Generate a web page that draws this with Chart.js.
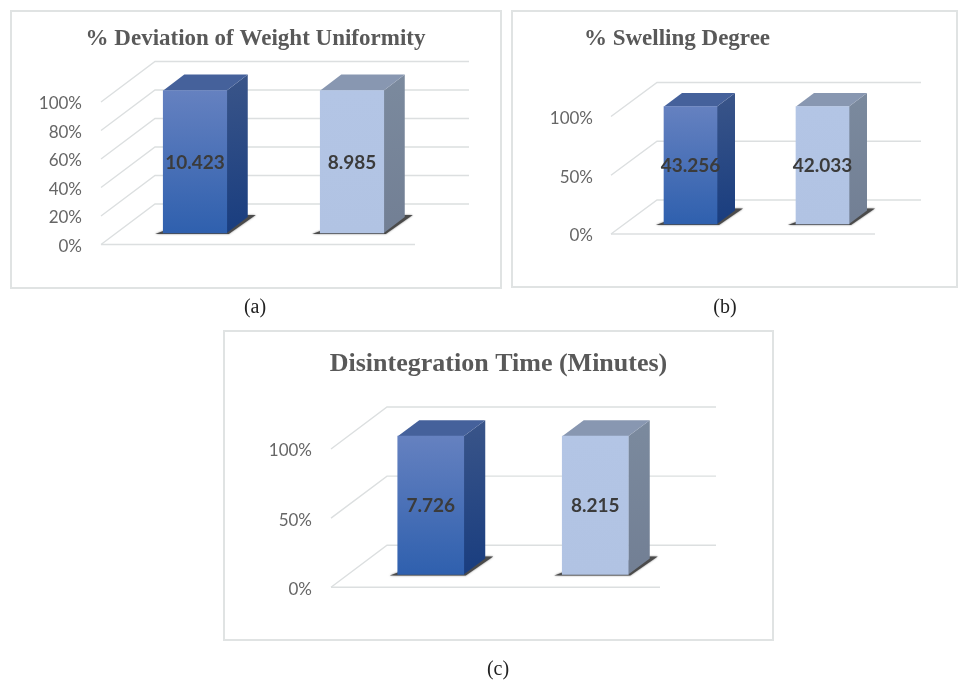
<!DOCTYPE html>
<html><head><meta charset="utf-8">
<script src="https://cdn.jsdelivr.net/npm/chart.js@4/dist/chart.umd.min.js"></script>
<style>
html,body{margin:0;background:#fff;width:958px;height:680px;overflow:hidden}
#page{position:relative;width:958px;height:680px;filter:blur(.5px)}
.panel{position:absolute;box-sizing:border-box;border:2px solid #e0e3e3;background:#fff}
canvas{position:absolute;left:0;top:0}
.wrap{position:absolute}
.cap{position:absolute;font:20px "Liberation Serif",serif;color:#222;transform:translateX(-50%);line-height:24px}
</style></head><body><div id="page"></div>
<script>
const categories = ['Series 1','Series 2'];
const weightValues = [10.423, 8.985];
const swellingValues = [43.256, 42.033];
const disintegrationValues = [7.726, 8.215];
const weightPercent = [100, 100];
const swellingPercent = [100, 100];
const disintegrationPercent = [100, 100];
const weightTicks = [0,20,40,60,80,100];
const swellingTicks = [0,50,100];
const disintegrationTicks = [0,50,100];
const weightTitle = '% Deviation of Weight Uniformity';
const swellingTitle = '% Swelling Degree';
const disintegrationTitle = 'Disintegration Time (Minutes)';

const SERIF='"Liberation Serif",serif';
const panels=[
 {title:weightTitle,vals:weightValues,pct:weightPercent,ticks:weightTicks,cap:'(a)',capX:255,capY:294,
  box:[10,10,492,279],area:[91,92,87,44.5],back:[54,-40.5],off:[15.5,-11.5],depth:[21,-16],barW:63.5,
  titleSize:23,titleY:29,titleX:245.5,tickPad:19,labelSize:19,tickShift:2},
 {title:swellingTitle,vals:swellingValues,pct:swellingPercent,ticks:swellingTicks,cap:'(b)',capX:725,capY:294,
  box:[511,10,447,278],area:[100,106.5,83,54],back:[46,-34],off:[13.5,-10],depth:[18,-13.5],barW:53,
  titleSize:23,titleY:29,titleX:166,tickPad:18,labelSize:19,tickShift:2},
 {title:disintegrationTitle,vals:disintegrationValues,pct:disintegrationPercent,ticks:disintegrationTicks,cap:'(c)',capX:498,capY:656,
  box:[223,330,551,311],area:[108,119,114,53.7],back:[56,-42],off:[17.5,-12.8],depth:[21.5,-16],barW:66,
  titleSize:26,titleY:34,titleX:275.5,tickPad:19,labelSize:19,tickShift:2}
];
const skin=[
 {front:['#6581C0','#2F60AE'],side:['#3A5589','#193D7F'],top:'#45619B'},
 {front:['#B3C5E5','#B1C3E3'],side:['#7B8A9E','#727F94'],top:'#8897B1'}
];

const solid3d={
 id:'solid3d',
 beforeDatasetsDraw(chart,_,o){
  const ctx=chart.ctx,y=chart.scales.y,a=chart.chartArea;
  ctx.save();
  ctx.strokeStyle='#dcdfe0';ctx.lineWidth=1.4;
  y.ticks.forEach(t=>{
   const p=y.getPixelForValue(t.value);
   ctx.beginPath();
   ctx.moveTo(a.left,p);ctx.lineTo(a.left+o.back[0],p+o.back[1]);ctx.lineTo(a.right+o.back[0],p+o.back[1]);
   ctx.stroke();
   if(t.value===0){ctx.beginPath();ctx.moveTo(a.left,p);ctx.lineTo(a.right,p);ctx.stroke();}
  });
  const bars=chart.getDatasetMeta(0).data;
  bars.forEach((el,i)=>{
   const s=skin[i],b=el.getProps(['x','y','base','width'],true);
   const L=b.x-b.width/2+o.off[0],R=b.x+b.width/2+o.off[0],T=b.y+o.off[1],B=b.base+o.off[1];
   const dx=o.depth[0],dy=o.depth[1];
   ctx.save();
   ctx.shadowColor='rgba(60,60,60,.7)';ctx.shadowBlur=2;
   ctx.fillStyle='#4b4b4b';
   ctx.beginPath();ctx.moveTo(L-8,B+1);ctx.lineTo(R+2,B+1);ctx.lineTo(R+dx+8,B+dy-2);ctx.lineTo(R+dx,B+dy-2);ctx.lineTo(L,B-2);ctx.closePath();ctx.fill();
   ctx.restore();
   let g=ctx.createLinearGradient(R,T+dy,R+dx,B);
   g.addColorStop(0,s.side[0]);g.addColorStop(1,s.side[1]);
   ctx.fillStyle=g;
   ctx.beginPath();ctx.moveTo(R,T);ctx.lineTo(R+dx,T+dy);ctx.lineTo(R+dx,B+dy);ctx.lineTo(R,B);ctx.closePath();ctx.fill();
   ctx.fillStyle=s.top;
   ctx.beginPath();ctx.moveTo(L,T);ctx.lineTo(L+dx,T+dy);ctx.lineTo(R+dx,T+dy);ctx.lineTo(R,T);ctx.closePath();ctx.fill();
  });
  ctx.restore();
  ctx.save();ctx.translate(o.off[0],o.off[1]);
 },
 afterDatasetsDraw(chart,_,o){
  const ctx=chart.ctx;
  ctx.restore();
  ctx.save();
  ctx.font='bold '+o.labelSize+'px Lato,sans-serif';ctx.fillStyle='#3b3b3b';
  ctx.textAlign='center';ctx.textBaseline='middle';
  chart.getDatasetMeta(0).data.forEach((el,i)=>{
   const b=el.getProps(['x','y','base'],true);
   ctx.fillText(o.vals[i].toFixed(3),b.x+o.off[0],(b.y+b.base)/2+o.off[1]+1);
  });
  ctx.restore();
 },
 afterLayout(chart,_,o){
  if(chart.titleBlock){chart.titleBlock.left=o.titleX-400;chart.titleBlock.right=o.titleX+400;}
 }
};

const page=document.getElementById('page');
panels.forEach(p=>{
 const [bx,by,bw,bh]=p.box,[aL,aT,aR,aB]=p.area;
 const pn=document.createElement('div');pn.className='panel';
 pn.style.cssText=`left:${bx}px;top:${by}px;width:${bw}px;height:${bh}px`;page.appendChild(pn);
 const w=document.createElement('div');w.className='wrap';
 w.style.cssText=`left:${bx}px;top:${by}px;width:${bw}px;height:${bh}px`;page.appendChild(w);
 const c=document.createElement('canvas');c.width=bw;c.height=bh;c.style.width=bw+'px';c.style.height=bh+'px';w.appendChild(c);
 const cap=document.createElement('div');cap.className='cap';cap.textContent=p.cap;
 cap.style.left=p.capX+'px';cap.style.top=p.capY+'px';page.appendChild(cap);
 const lh=p.titleSize*1.2,padT=p.titleY-lh/2,padB=aT-padT-lh;
 new Chart(c,{
  type:'bar',
  data:{labels:categories,datasets:[{
   data:p.pct,barThickness:p.barW,borderWidth:0,clip:false,
   backgroundColor(ctx){
    const a=ctx.chart.chartArea,s=skin[ctx.dataIndex];
    if(!a)return s.front[0];
    const g=ctx.chart.ctx.createLinearGradient(0,a.top,0,a.bottom);
    g.addColorStop(0,s.front[0]);g.addColorStop(1,s.front[1]);return g;
   }
  }]},
  options:{
   responsive:false,animation:false,devicePixelRatio:1,
   layout:{padding:{left:0,top:0,right:aR,bottom:aB}},
   plugins:{
    legend:{display:false},tooltip:{enabled:false},
    title:{display:true,text:p.title,color:'#595959',padding:{top:padT,bottom:padB},
     font:{family:SERIF,size:p.titleSize,weight:'bold',lineHeight:1.2}},
    solid3d:{back:p.back,off:p.off,depth:p.depth,vals:p.vals,labelSize:p.labelSize,titleX:p.titleX}
   },
   scales:{
    x:{display:false},
    y:{min:0,max:100,
     afterFit(s){s.width=aL;},
     afterBuildTicks(s){s.ticks=p.ticks.map(v=>({value:v}));},
     grid:{display:false,drawTicks:false},border:{display:false},
     ticks:{padding:p.tickPad,labelOffset:p.tickShift,color:'#666666',font:{family:'Lato,sans-serif',size:17},
      autoSkip:false,callback:v=>v+'%'}}
   }
  },
  plugins:[solid3d]
 });
});
</script></body></html>
